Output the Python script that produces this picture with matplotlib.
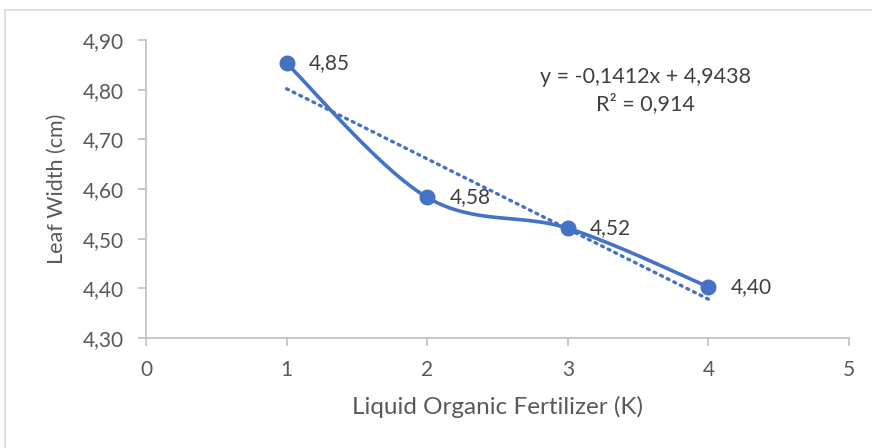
import numpy as np
import matplotlib.pyplot as plt
from matplotlib.patches import Rectangle
from matplotlib.ticker import FuncFormatter

# data
doses = [1, 2, 3, 4]
leaf_width = [4.853, 4.583, 4.521, 4.403]
point_labels = ['4,85', '4,58', '4,52', '4,40']
eq_text = 'y = -0,1412x + 4,9438'
r2_text = 'R² = 0,914'

blue = '#4472C4'
grey = '#595959'
plt.rcParams['font.family'] = ['Lato', 'DejaVu Sans']


def smooth(xs, ys, n=40):
    # excel-like smoothed line (bezier through points, 1/6 control handles)
    xs = np.asarray(xs, float); ys = np.asarray(ys, float)
    px = np.concatenate([[xs[0]], xs, [xs[-1]]])
    py = np.concatenate([[ys[0]], ys, [ys[-1]]])
    outx, outy = [], []
    t = np.linspace(0, 1, n)
    for i in range(1, len(px) - 2):
        p0 = np.array([px[i], py[i]]); p3 = np.array([px[i+1], py[i+1]])
        p1 = p0 + (np.array([px[i+1], py[i+1]]) - np.array([px[i-1], py[i-1]])) / 6
        p2 = p3 - (np.array([px[i+2], py[i+2]]) - np.array([px[i], py[i]])) / 6
        b = ((1-t)**3)[:, None]*p0 + (3*(1-t)**2*t)[:, None]*p1 + (3*(1-t)*t**2)[:, None]*p2 + (t**3)[:, None]*p3
        outx.extend(b[:, 0]); outy.extend(b[:, 1])
    return outx, outy


fig = plt.figure(figsize=(8.72, 4.48), dpi=100)
fig.patches.append(Rectangle((5/872, -0.1), 1.2, 0.1 + 438/448, transform=fig.transFigure,
                             fill=False, edgecolor='#d9d9d9', linewidth=1.2))
ax = fig.add_axes([146/872, 110/448, 703/872, 298/448])

sx, sy = smooth(doses, leaf_width)
ax.plot(sx, sy, color=blue, linewidth=2.6, solid_capstyle='round', zorder=3)
ax.plot(doses, leaf_width, 'o', color=blue, markersize=10.5, zorder=4)

slope, intercept = np.polyfit(doses, leaf_width, 1)
tx = np.array([doses[0], doses[-1]])
ax.plot(tx, slope*tx + intercept, color=blue, linewidth=2.4, linestyle=(0, (0.6, 1.6)),
        dash_capstyle='round', zorder=2)

for x, y, lab in zip(doses, leaf_width, point_labels):
    ax.annotate(lab, (x, y), xytext=(16, 0), textcoords='offset points',
                va='center', ha='left', fontsize=15, color='#404040')

fig.text(645/872, 1 - 77/448, eq_text, ha='center', va='center', fontsize=15.5, color='#404040')
fig.text(645/872, 1 - 104/448, r2_text, ha='center', va='center', fontsize=15.5, color='#404040')

ax.set_xlim(0, 5)
ax.set_ylim(4.30, 4.90)
ax.set_xticks(range(6))
ax.set_yticks(np.arange(4.30, 4.901, 0.10))
ax.yaxis.set_major_formatter(FuncFormatter(lambda v, p: f'{v:.2f}'.replace('.', ',')))
for s in ['top', 'right']:
    ax.spines[s].set_visible(False)
for s in ['left', 'bottom']:
    ax.spines[s].set_color('#bfbfbf')
    ax.spines[s].set_linewidth(1.2)
ax.tick_params(colors='#bfbfbf', labelcolor=grey, labelsize=15, length=6, width=1.2)
ax.tick_params(axis='x', pad=10)
ax.tick_params(axis='y', pad=10)
ax.set_xlabel('Liquid Organic Fertilizer (K)', fontsize=17.5, color=grey, labelpad=11)
ax.set_ylabel('Leaf Width (cm)', fontsize=15.5, color=grey)
ax.yaxis.set_label_coords(-0.113, 0.5)

fig.savefig('out.png', dpi=100)
